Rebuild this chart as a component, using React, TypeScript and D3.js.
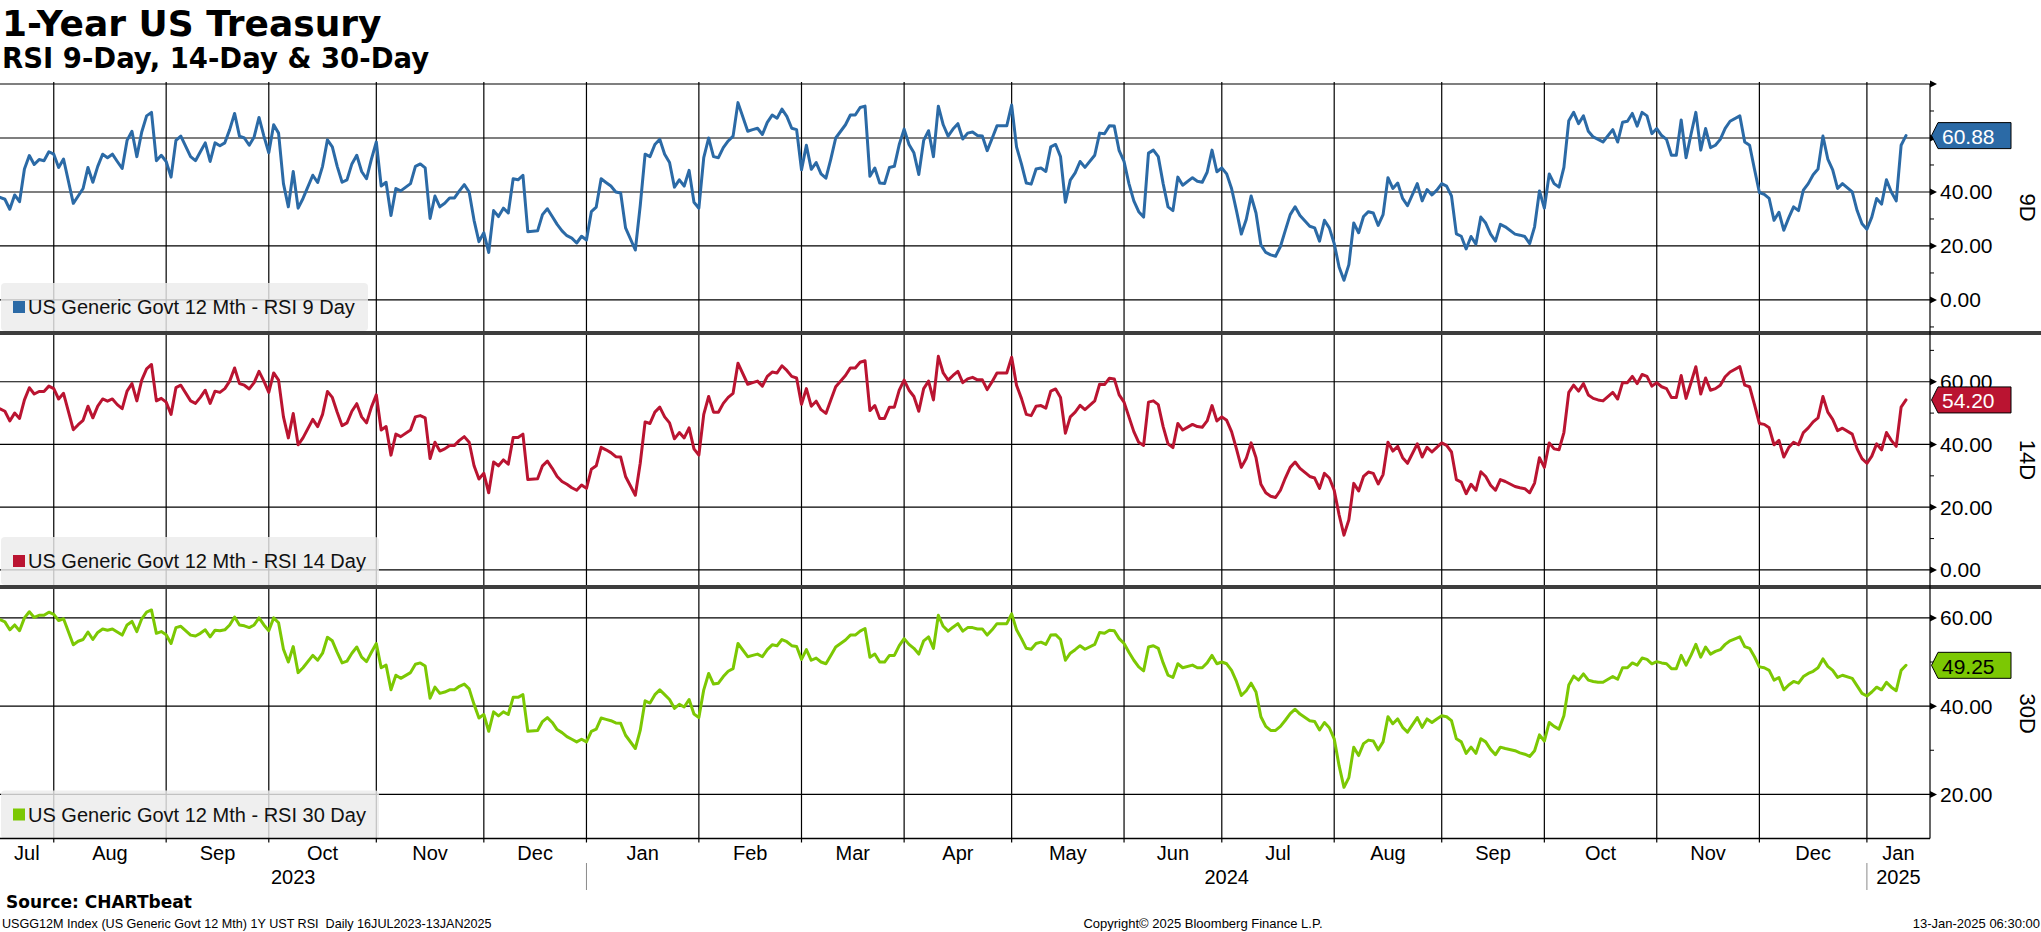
import React from 'react';
import * as d3 from 'd3';

// ---------- DATA ----------
const START = '2023-07-17'; // first trading day shown (16JUL2023 is a Sunday)
const END = '2025-01-13';
// trading-day offsets (weekdays since START) where values were read
const tradingDay = [
  0,1,2,3,4,5,6,7,8,9,10,11,12,13,15,16,17,18,19,20,21,22,23,24,25,26,27,28,29,30,31,32,33,34,35,36,37,39,40,41,42,43,44,45,46,47,48,49,50,51,52,53,54,55,56,57,58,59,60,61,62,64,65,66,67,68,69,70,71,72,73,74,75,76,77,78,79,80,81,82,84,85,86,87,88,89,90,91,92,93,94,95,96,97,98,99,100,
  101,102,103,104,105,106,107,108,110,111,112,113,114,115,116,117,118,119,120,121,122,123,124,125,126,127,128,130,131,132,133,134,135,136,137,138,139,140,141,142,143,144,145,146,147,148,149,150,151,153,154,155,156,157,158,159,160,161,162,163,164,165,166,167,168,169,170,171,173,174,175,176,177,178,179,180,181,182,183,184,185,186,187,188,189,190,191,192,193,194,195,196,197,198,
  199,200,201,202,203,204,205,206,207,208,209,210,211,212,213,214,215,216,217,218,219,220,221,222,224,225,226,227,228,229,230,231,232,233,234,235,236,237,238,239,240,241,242,244,245,246,247,248,249,250,251,252,253,254,255,256,257,258,259,260,261,262,263,264,265,266,268,269,270,271,272,273,274,275,276,277,278,279,280,281,282,283,284,285,286,287,288,290,291,292,293,294,295,296,297,
  298,299,300,301,302,303,304,305,306,307,308,310,311,312,313,314,315,316,317,318,319,320,321,322,323,324,325,326,327,328,330,331,332,333,334,335,336,337,338,339,340,341,342,343,344,345,346,347,348,349,350,351,352,353,354,356,357,358,359,360,361,362,363,364,365,366,367,368,369,370,371,372,373,374,375,376,377,379,380,381,382,383,384,385,386,387,388,389,390
];

const rsi9 = [
  38.0,37.3,33.6,38.9,36.4,48.5,53.5,50.2,52.0,51.6,54.9,54.0,49.1,52.2,35.8,38.5,41.3,49.1,43.6,49.5,54.0,52.7,54.0,51.3,48.7,59.1,62.5,53.1,62.2,68.2,69.5,51.6,53.6,51.3,45.5,59.1,60.7,53.1,51.6,54.9,58.2,51.3,58.2,57.1,58.2,63.1,69.1,60.7,60.0,57.3,60.4,67.6,60.7,54.5,64.9,61.8,43.1,34.5,47.6,34.0,37.6,46.2,43.5,49.5,59.3,56.7,49.5,43.6,44.5,50.4,53.6,47.6,44.9,52.2,58.5,42.2,43.6,31.3,41.3,40.4,43.1,49.5,50.4,48.9,30.2,38.5,34.5,35.8,37.8,37.8,40.4,42.7,40.0,29.5,21.6,24.9,17.6,
  33.1,30.9,34.0,32.2,44.9,44.5,46.2,25.3,25.6,31.6,33.8,30.9,28.0,25.6,23.8,22.9,21.1,23.6,22.2,32.7,34.4,44.9,43.5,42.2,40.0,39.6,26.7,18.5,34.9,54.0,53.1,57.6,59.5,54.0,50.9,41.8,44.5,42.2,48.0,36.2,34.0,52.7,60.0,53.1,52.7,56.4,58.9,60.7,73.1,62.5,63.1,63.6,61.3,65.8,68.5,67.3,70.7,68.0,63.6,63.1,48.2,57.3,48.4,50.9,46.7,45.1,52.2,60.0,64.9,68.5,68.5,71.3,71.8,45.8,48.9,43.3,43.1,49.1,49.5,57.6,63.3,57.6,54.5,46.5,59.1,62.7,53.1,71.8,64.9,60.7,63.3,65.3,59.6,61.8,
  62.2,60.9,60.7,55.3,59.8,64.5,64.5,64.5,72.2,56.7,50.4,43.3,42.9,48.5,48.9,47.6,56.7,57.6,53.1,36.2,44.4,47.1,51.3,49.1,53.6,61.8,61.6,64.5,64.4,55.3,51.3,43.1,36.7,32.7,30.7,54.4,55.5,53.1,43.1,34.5,33.1,45.5,42.5,45.3,44.0,43.6,47.3,55.5,47.5,48.9,46.7,41.3,33.1,24.4,29.8,38.5,32.2,20.4,17.6,16.7,16.2,19.8,25.8,31.6,34.5,31.3,27.3,26.7,21.8,29.5,26.7,20.9,12.2,7.3,13.1,28.5,24.9,30.9,32.7,32.2,27.6,31.6,45.3,41.3,43.3,37.6,34.9,43.1,36.7,40.9,38.9,40.7,43.1,42.2,38.5,
  24.5,23.6,18.9,23.5,20.7,30.7,28.5,24.4,21.8,28.0,27.1,24.4,24.0,23.5,20.9,27.1,40.4,34.0,46.7,43.1,41.8,49.1,66.4,69.5,65.3,68.2,62.5,60.4,59.5,58.5,63.1,58.5,65.8,66.2,69.1,64.4,69.5,68.2,61.6,63.5,60.9,59.5,53.6,53.6,66.7,52.7,61.3,69.5,55.5,63.5,56.4,57.3,59.5,63.6,66.2,68.2,58.5,57.3,48.4,39.8,39.1,37.6,29.5,32.5,25.8,30.4,34.5,33.1,40.7,43.1,46.4,48.5,60.7,52.2,48.2,41.3,43.1,40.0,33.1,28.2,26.2,30.7,37.6,35.5,44.5,40.0,36.7,57.3,60.88
];

const rsi14 = [
  51.4,50.6,47.5,50.0,48.3,54.2,58.1,56.1,56.9,56.9,58.6,57.8,54.5,56.3,44.7,46.3,47.7,52.2,48.5,52.2,54.5,53.8,54.5,52.7,51.4,57.0,59.4,53.9,60.5,64.1,65.5,53.9,54.7,53.5,49.6,58.1,58.9,53.9,53.1,55.0,57.3,53.1,57.0,56.6,57.8,60.2,64.4,59.4,58.9,57.7,59.7,63.3,60.2,56.6,62.8,60.5,48.8,42.1,49.9,39.9,42.1,48.0,45.7,49.6,56.9,55.0,50.3,46.0,46.9,50.6,53.0,48.8,46.9,51.9,55.8,44.6,45.7,36.6,43.3,42.5,44.6,48.8,49.2,48.5,35.5,40.7,37.9,38.6,39.7,39.7,41.3,42.5,40.7,33.2,29.0,30.8,24.6,
  34.4,33.2,35.1,33.7,42.2,42.2,43.3,28.8,29.1,33.2,34.7,32.4,29.8,28.2,27.3,26.2,25.4,27.1,26.0,32.1,33.2,39.1,38.3,37.4,36.1,36.0,29.8,23.8,34.0,47.2,46.7,50.3,51.9,48.8,46.9,41.8,43.8,42.1,45.3,38.6,36.6,49.6,55.3,50.3,50.3,53.1,55.0,56.3,65.9,59.2,59.7,60.2,58.6,61.7,63.1,62.8,65.1,63.6,61.7,61.2,52.8,57.8,52.2,53.8,51.1,49.9,54.2,58.4,62.0,64.4,64.4,66.2,66.7,50.8,52.4,48.3,48.3,51.9,51.9,57.3,60.5,57.3,55.3,50.6,57.8,60.2,54.2,68.1,62.8,60.5,62.0,63.3,59.7,60.9,
  61.4,60.6,60.6,57.5,60.0,62.8,62.8,62.8,67.8,58.9,54.7,49.6,49.2,52.2,52.4,51.6,57.0,57.7,55.0,43.6,48.8,50.3,52.5,51.1,53.9,59.2,59.1,61.1,60.9,55.8,53.5,48.8,44.1,40.7,39.7,53.5,53.9,52.7,45.7,40.2,39.0,46.7,44.6,46.4,45.7,45.5,47.5,52.4,47.5,48.8,47.7,44.1,38.6,32.7,35.5,40.5,35.8,27.3,24.6,23.5,23.1,25.4,29.3,32.7,34.4,32.4,29.8,29.3,26.0,30.8,29.3,25.4,17.6,11.1,16.0,27.6,25.2,29.8,31.2,30.8,27.4,30.4,40.7,37.9,39.4,35.8,34.0,40.2,36.0,39.1,37.6,39.1,40.5,39.7,37.6,
  28.8,28.0,24.3,27.3,25.4,31.3,29.8,27.0,25.4,28.8,28.2,26.6,26.2,25.9,24.6,27.7,35.8,32.7,40.5,38.6,38.3,43.8,56.6,58.9,57.0,59.4,55.8,54.7,54.2,53.9,56.6,54.5,59.7,59.7,61.7,59.4,62.3,61.7,58.6,59.7,58.4,57.8,55.0,55.0,62.0,54.7,59.7,64.8,56.1,61.2,57.3,57.8,58.9,61.6,63.1,64.8,58.9,58.4,52.7,46.7,46.4,45.3,39.9,41.3,36.0,39.0,40.7,39.9,43.8,45.3,47.2,48.5,55.3,50.3,48.0,44.4,45.2,43.3,38.6,35.5,34.0,36.3,40.2,38.3,43.8,41.3,39.4,51.9,54.20
];

const rsi30 = [
  59.6,59.1,57.3,58.4,57.1,60.0,61.4,60.1,60.6,60.6,61.3,60.8,59.4,59.8,53.9,54.7,55.1,56.8,55.1,56.7,57.5,57.2,57.5,56.8,56.1,58.4,59.2,56.9,59.8,61.3,61.8,56.5,56.9,56.2,54.2,57.8,58.1,56.1,55.9,56.5,57.3,55.7,57.2,57.1,57.3,58.4,60.2,58.4,58.2,57.8,58.4,60.0,58.4,57.1,60.0,58.9,52.9,50.0,53.5,47.6,48.7,51.5,50.4,52.0,55.6,54.8,52.2,49.8,50.2,52.0,53.4,51.1,50.1,52.2,54.2,48.7,49.3,43.7,47.0,46.3,47.6,49.5,49.8,49.1,41.8,44.3,42.9,43.2,43.7,43.7,44.5,45.0,43.9,40.4,37.3,38.1,34.3,
  38.7,37.8,38.7,38.1,42.0,42.0,42.6,34.3,34.5,36.5,37.4,36.3,34.7,34.0,33.1,32.5,31.9,32.5,31.9,34.3,34.8,37.3,37.0,36.7,36.2,36.1,33.4,30.4,34.5,41.2,40.7,42.6,43.7,42.6,41.5,39.5,40.4,39.8,41.5,38.2,37.4,43.7,47.4,45.0,45.2,46.7,47.9,48.5,54.2,51.2,51.5,51.8,51.2,52.8,53.9,53.7,55.1,54.6,53.7,53.5,50.6,52.8,50.4,50.9,50.0,49.6,51.5,53.4,55.0,56.1,56.1,57.0,57.6,51.1,51.8,50.0,50.0,51.5,51.5,53.7,55.3,54.0,53.1,51.8,54.8,55.7,53.1,60.6,58.1,57.0,57.9,58.7,57.0,57.8,
  57.8,57.5,57.5,56.1,57.3,58.7,58.7,58.7,60.9,57.3,55.3,53.1,52.9,54.2,54.5,54.0,56.1,56.2,55.1,50.4,52.0,52.8,53.7,52.9,54.0,56.7,56.5,57.2,57.1,55.3,54.2,52.2,50.4,48.9,48.0,53.4,53.7,53.1,49.8,47.0,46.5,49.6,48.7,49.3,48.7,48.7,49.8,51.5,49.6,50.0,49.6,48.1,45.6,42.4,43.5,45.2,43.2,37.6,35.4,34.5,34.5,35.4,36.8,38.3,39.3,38.2,36.7,36.5,34.6,36.3,35.1,32.6,26.5,21.6,23.8,30.7,28.8,31.5,32.3,32.1,30.1,31.9,37.6,36.0,37.1,35.2,34.1,37.4,35.2,37.1,36.3,37.1,37.8,37.6,36.7,
  32.6,31.9,29.3,30.7,29.3,32.6,31.9,30.2,29.0,30.7,30.4,29.9,29.4,29.1,28.6,29.9,33.5,32.1,36.3,35.4,34.8,37.8,44.8,46.8,45.9,47.3,45.9,45.6,45.4,45.4,46.7,46.1,48.7,48.7,49.8,49.3,50.9,50.6,49.6,50.1,49.8,49.6,48.5,48.5,51.5,49.3,51.5,54.0,51.1,53.4,51.8,52.4,52.8,54.0,54.8,55.7,53.5,53.1,51.2,48.9,48.7,48.1,45.9,46.5,43.7,44.8,45.6,45.2,46.7,47.4,47.9,48.7,50.7,49.0,48.1,46.5,47.0,46.3,44.6,42.9,42.3,43.2,44.3,43.7,45.4,44.3,43.5,48.1,49.25
];

const seriesValues = [rsi9, rsi14, rsi30];
const seriesNames = [
  'US Generic Govt 12 Mth - RSI 9 Day',
  'US Generic Govt 12 Mth - RSI 14 Day',
  'US Generic Govt 12 Mth - RSI 30 Day',
];
const panelTags = ['9D', '14D', '30D'];
const seriesColors = ['#2b6aa6', '#ba1431', '#7cc803'];
const valueBoxText = ['#ffffff', '#ffffff', '#000000'];
const majorTicks = [[80, 60, 40, 20, 0], [60, 40, 20, 0], [60, 40, 20]];
const labeledTicks = [[60, 40, 20, 0], [60, 40, 20, 0], [60, 40, 20]];
const minorTicks = [[70, 50, 30, 10, -10], [70, 50, 30, 10], [50, 30]];
const yDomains: [number, number][] = [[-11.5, 80], [-4.8, 74.9], [10, 66.55]];
const monthNames = ['Jan','Feb','Mar','Apr','May','Jun','Jul','Aug','Sep','Oct','Nov','Dec'];

// ---------- LAYOUT ----------
const W = 2041, H = 932;
const PLOT_R = 1930;
const panelBox = [
  { top: 84, bottom: 331 },
  { top: 335, bottom: 585 },
  { top: 589, bottom: 838.5 },
];
const AXIS_Y = 838.5;
const SANS = '"Liberation Sans", Arial, sans-serif';
const BOLD = '"DejaVu Sans", Verdana, sans-serif';

export default function App() {
  // weekday calendar
  const startD = new Date(START + 'T00:00:00Z');
  const endD = new Date(END + 'T00:00:00Z');
  const calendar = d3.utcDays(startD, d3.utcDay.offset(endD, 1)).filter(d => d.getUTCDay() !== 0 && d.getUTCDay() !== 6);
  const lastIdx = calendar.length - 1;

  const x = d3.scaleLinear().domain([0, lastIdx]).range([0, 1906]);

  // month starts
  const monthStarts: number[] = [];
  calendar.forEach((d, i) => {
    if (i > 0 && d.getUTCMonth() !== calendar[i - 1].getUTCMonth()) monthStarts.push(i);
  });
  const segStarts = [0, ...monthStarts];
  const monthSegs = segStarts.map((s, k) => {
    const x0 = k === 0 ? 0 : x(s);
    const x1 = k + 1 < segStarts.length ? x(segStarts[k + 1]) : PLOT_R;
    return { label: monthNames[calendar[s].getUTCMonth()], cx: (x0 + x1) / 2 };
  });
  const yearStarts = monthStarts.filter(i => calendar[i].getUTCMonth() === 0);
  const yearBounds = [0, ...yearStarts.map(i => x(i)), PLOT_R];
  const years = [calendar[0].getUTCFullYear(), ...yearStarts.map(i => calendar[i].getUTCFullYear())];

  const yScales = panelBox.map((p, k) => d3.scaleLinear().domain(yDomains[k]).range([p.bottom, p.top]));

  return (
    <svg width={W} height={H} style={{ position: 'absolute', left: 0, top: 0, background: '#fff' }}>
      <rect x={0} y={0} width={W} height={H} fill="#fff" />
      {/* titles */}
      <text x={2} y={36} fontFamily={BOLD} fontWeight="bold" fontSize={36} fill="#000">1-Year US Treasury</text>
      <text x={2} y={68} fontFamily={BOLD} fontWeight="bold" fontSize={27.5} fill="#000">RSI 9-Day, 14-Day &amp; 30-Day</text>

      {/* horizontal gridlines + right axis ticks */}
      {panelBox.map((p, k) => {
        const y = yScales[k];
        return (
          <g key={'grid' + k}>
            {majorTicks[k].map(v => (
              <g key={v}>
                <line x1={0} x2={PLOT_R} y1={y(v)} y2={y(v)} stroke="#000" strokeWidth={1.2} />
                <path d={`M${PLOT_R},${y(v) - 3.5}L${PLOT_R + 7},${y(v)}L${PLOT_R},${y(v) + 3.5}Z`} fill="#000" />
              </g>
            ))}
            {minorTicks[k].map(v => (
              <line key={'m' + v} x1={PLOT_R} x2={PLOT_R + 4} y1={y(v)} y2={y(v)} stroke="#000" strokeWidth={1} />
            ))}
            {labeledTicks[k].map(v => (
              <text key={'l' + v} x={PLOT_R + 10} y={y(v)} dominantBaseline="central" fontFamily={SANS} fontSize={21} fill="#000">
                {v.toFixed(2)}
              </text>
            ))}
          </g>
        );
      })}

      {/* vertical month gridlines */}
      {monthStarts.map(i => (
        <line key={'v' + i} x1={x(i)} x2={x(i)} y1={82} y2={AXIS_Y + 4} stroke="#000" strokeWidth={1.2} />
      ))}

      {/* series lines */}
      {seriesValues.map((vals, k) => {
        const y = yScales[k];
        const line = d3.line<number>().x((_, i) => x(tradingDay[i])).y(v => y(v));
        return (
          <path key={'s' + k} d={line(vals) || ''} fill="none" stroke={seriesColors[k]} strokeWidth={3} strokeLinejoin="round" strokeLinecap="round" />
        );
      })}

      {/* legends */}
      {panelBox.map((p, k) => {
        const top = p.bottom - 48;
        const w = k === 0 ? 367 : 378;
        return (
          <g key={'lg' + k}>
            <rect x={1} y={top} width={w} height={48} rx={4} fill="#ececec" fillOpacity={0.82} />
            <rect x={13} y={top + 18} width={12} height={12} fill={seriesColors[k]} />
            <text x={28} y={top + 31} fontFamily={SANS} fontSize={20} fill="#111">{seriesNames[k]}</text>
          </g>
        );
      })}

      {/* separators */}
      <rect x={0} y={331} width={W} height={4} fill="#3d3d3d" />
      <rect x={0} y={585} width={W} height={4} fill="#3d3d3d" />

      {/* axes lines */}
      <line x1={PLOT_R} x2={PLOT_R} y1={84} y2={AXIS_Y} stroke="#000" strokeWidth={1.2} />
      <line x1={0} x2={PLOT_R} y1={AXIS_Y} y2={AXIS_Y} stroke="#000" strokeWidth={1.5} />

      {/* last value boxes */}
      {seriesValues.map((vals, k) => {
        const v = vals[vals.length - 1];
        const yy = yScales[k](v);
        const x0 = PLOT_R + 1.5, x1 = PLOT_R + 8, x2 = 2011;
        return (
          <g key={'vb' + k}>
            <path d={`M${x0},${yy}L${x1},${yy - 13}L${x2},${yy - 13}L${x2},${yy + 13}L${x1},${yy + 13}Z`} fill={seriesColors[k]} stroke="#000" strokeWidth={1} />
            <text x={PLOT_R + 12} y={yy + 1} dominantBaseline="central" fontFamily={SANS} fontSize={21} fill={valueBoxText[k]}>{v.toFixed(2)}</text>
          </g>
        );
      })}

      {/* panel tags */}
      {panelBox.map((p, k) => (
        <text key={'t' + k} transform={`translate(2027,${(p.top + p.bottom) / 2}) rotate(90)`} textAnchor="middle" dominantBaseline="central" fontFamily={SANS} fontSize={22} fill="#000">
          {panelTags[k]}
        </text>
      ))}

      {/* month labels */}
      {monthSegs.map((m, k) => (
        <text key={'ml' + k} x={m.cx} y={860} textAnchor="middle" fontFamily={SANS} fontSize={20} fill="#000">{m.label}</text>
      ))}
      {/* year labels */}
      {years.map((yr, k) => (
        <text key={'yl' + k} x={(yearBounds[k] + yearBounds[k + 1]) / 2} y={884} textAnchor="middle" fontFamily={SANS} fontSize={20} fill="#000">{yr}</text>
      ))}
      {yearStarts.map(i => (
        <line key={'ys' + i} x1={x(i)} x2={x(i)} y1={863} y2={890} stroke="#8a8a8a" strokeWidth={1} />
      ))}

      {/* footer */}
      <text x={6} y={908} fontFamily={BOLD} fontWeight="bold" fontSize={17} fill="#000">Source: CHARTbeat</text>
      <text x={2} y={928} fontFamily={SANS} fontSize={12.6} fill="#000" style={{ whiteSpace: 'pre' }}>USGG12M Index (US Generic Govt 12 Mth) 1Y UST RSI  Daily 16JUL2023-13JAN2025</text>
      <text x={1203} y={928} textAnchor="middle" fontFamily={SANS} fontSize={13} fill="#000">Copyright© 2025 Bloomberg Finance L.P.</text>
      <text x={2040} y={928} textAnchor="end" fontFamily={SANS} fontSize={13} fill="#000">13-Jan-2025 06:30:00</text>
    </svg>
  );
}
